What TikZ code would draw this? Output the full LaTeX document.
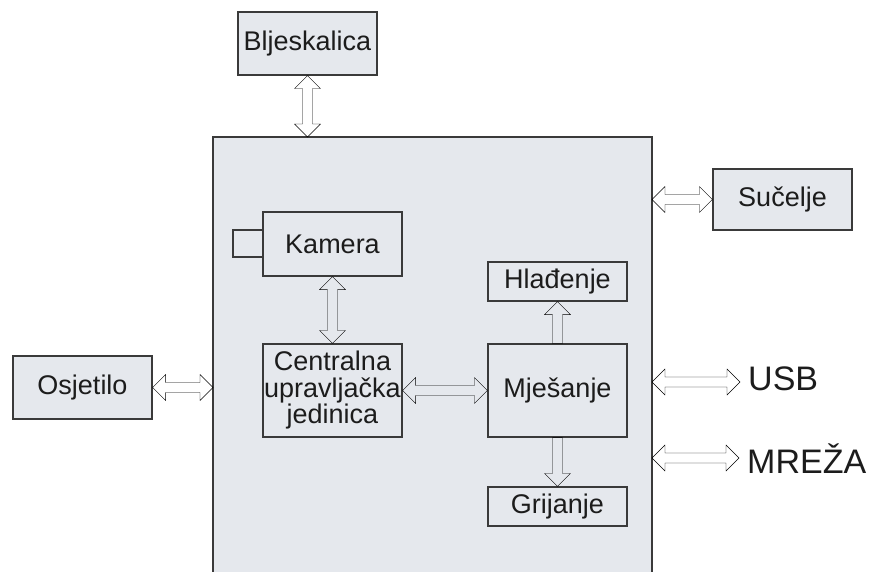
\documentclass[tikz,border=0pt]{standalone}
\usepackage{fontspec}
\setmainfont{Liberation Sans}
\usetikzlibrary{calc}
\definecolor{boxfill}{HTML}{E5E8ED}
\definecolor{arrfill}{HTML}{DCE1E8}
\definecolor{linecol}{HTML}{3A3A3A}
\definecolor{txtcol}{HTML}{1C1C1C}
\tikzset{
  box/.style={draw=linecol, fill=boxfill, line width=1.1pt, inner sep=0pt,
    text=txtcol, font=\fontsize{27}{26.5}\selectfont, align=center},
  arr/.style={draw=linecol, fill=arrfill, line width=1pt, line join=miter},
  hdbl/.style={arr, to path={let \p1=(\tikztostart), \p2=(\tikztotarget) in
    (\x1,\y1) -- (\x1+13pt,\y1+13pt) -- (\x1+13pt,\y1+5pt) -- (\x2-13pt,\y1+5pt)
    -- (\x2-13pt,\y1+13pt) -- (\x2,\y1) -- (\x2-13pt,\y1-13pt) -- (\x2-13pt,\y1-5pt)
    -- (\x1+13pt,\y1-5pt) -- (\x1+13pt,\y1-13pt) -- cycle}},
  vdbl/.style={arr, to path={let \p1=(\tikztostart), \p2=(\tikztotarget) in
    (\x1,\y1) -- (\x1+13pt,\y1-13pt) -- (\x1+5pt,\y1-13pt) -- (\x1+5pt,\y2+13pt)
    -- (\x1+13pt,\y2+13pt) -- (\x1,\y2) -- (\x1-13pt,\y2+13pt) -- (\x1-5pt,\y2+13pt)
    -- (\x1-5pt,\y1-13pt) -- (\x1-13pt,\y1-13pt) -- cycle}},
  vup/.style={arr, to path={let \p1=(\tikztostart), \p2=(\tikztotarget) in
    (\x1-5pt,\y1) -- (\x1-5pt,\y2-13pt) -- (\x1-13pt,\y2-13pt) -- (\x1,\y2)
    -- (\x1+13pt,\y2-13pt) -- (\x1+5pt,\y2-13pt) -- (\x1+5pt,\y1) -- cycle}},
  vdown/.style={arr, to path={let \p1=(\tikztostart), \p2=(\tikztotarget) in
    (\x1-5pt,\y1) -- (\x1-5pt,\y2+13pt) -- (\x1-13pt,\y2+13pt) -- (\x1,\y2)
    -- (\x1+13pt,\y2+13pt) -- (\x1+5pt,\y2+13pt) -- (\x1+5pt,\y1) -- cycle}},
  bigtext/.style={text=txtcol, font=\fontsize{34}{34}\selectfont, inner sep=0pt}
}
\begin{document}
\begin{tikzpicture}[x=1pt,y=-1pt]
\useasboundingbox (0,0) rectangle (878,572);
\fill[white] (0,0) rectangle (878,572);
% main box
\coordinate (mainNW) at (213,137);
\coordinate (mainNE) at (652,137);
\fill[boxfill] (213,137) rectangle (652,574);
\draw[linecol, line width=1.1pt] (213,574) -- (mainNW) -- (mainNE) -- (652,574);
% boxes
\node[box, minimum width=139pt, minimum height=63pt] (blj) at (307.5,43.5) {Bljeskalica};
\node[box, minimum width=139pt, minimum height=64pt] (kam) at (332.5,244) {Kamera};
\node[box, minimum width=30pt, minimum height=27pt] (lens) at (248,243.5) {};
\node[box, minimum width=139pt, minimum height=93pt] (cpu) at (332.5,390.5)
  {Centralna\\upravljačka\\jedinica};
\node[box, minimum width=139pt, minimum height=93pt] (mje) at (557.5,390.5) {Mješanje};
\node[box, minimum width=139pt, minimum height=39pt] (hla) at (557.5,281.5) {Hlađenje};
\node[box, minimum width=139pt, minimum height=39pt] (gri) at (557.5,506.5) {Grijanje};
\node[box, minimum width=139pt, minimum height=63pt] (osj) at (82.5,387.5) {Osjetilo};
\node[box, minimum width=139pt, minimum height=61pt] (suc) at (782.5,199.5) {Sučelje};
% text labels
\node[bigtext, anchor=base west] (usb) at (748,390) {USB};
\node[bigtext, anchor=base west] (mreza) at (747,473) {MREŽA};
\coordinate (usbA) at (652,382);
\coordinate (usbB) at (740,382);
\coordinate (mreA) at (652,458);
\coordinate (mreB) at (739,458);
% connectors
\draw (blj.south) to[vdbl] (blj.south |- mainNW);
\draw (kam.south) to[vdbl] (cpu.north);
\draw (cpu.east) to[hdbl] (mje.west);
\draw (mje.north) to[vup] (hla.south);
\draw (mje.south) to[vdown] (gri.north);
\draw (osj.east) to[hdbl] (osj.east -| mainNW);
\draw (suc.west -| mainNE) to[hdbl] (suc.west);
\draw (usbA) to[hdbl] (usbB);
\draw (mreA) to[hdbl] (mreB);
\end{tikzpicture}
\end{document}
